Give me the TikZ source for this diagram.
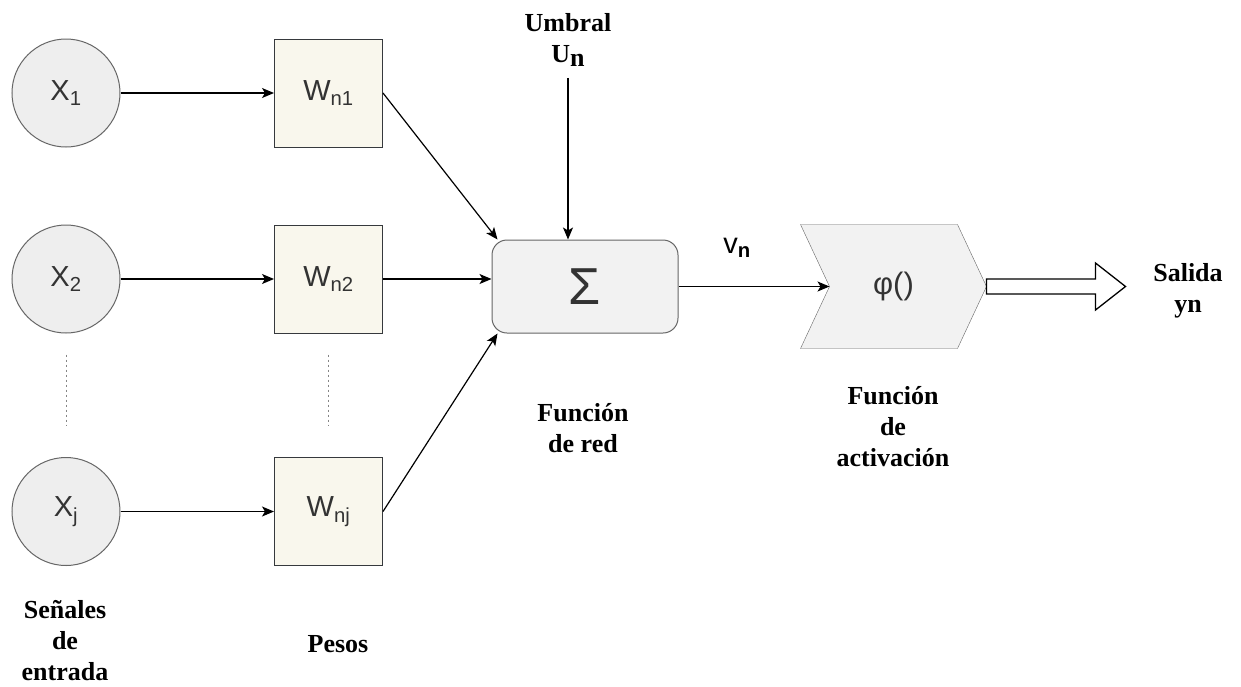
\documentclass[tikz,border=0pt]{standalone}
\usepackage{fontspec}
\setmainfont{Liberation Serif}
\newfontfamily\arial{Liberation Sans}
\usetikzlibrary{calc,arrows.meta,backgrounds}
\definecolor{grisclaro}{HTML}{EEEEEE}
\definecolor{grisnodo}{HTML}{F2F2F2}
\definecolor{borde}{HTML}{666666}
\definecolor{crema}{HTML}{F9F7ED}
\definecolor{bordepeso}{HTML}{36393D}
\definecolor{texto}{HTML}{333333}

\begin{document}
\begin{tikzpicture}[x=1pt,y=-1pt,line width=1pt,>={Stealth[length=12pt,width=10pt,inset=3pt]},
  entrada/.style={circle,draw=borde,fill=grisclaro,minimum size=108pt,inner sep=0pt,text=texto,font=\arial\fontsize{29}{34}\selectfont},
  peso/.style={draw=bordepeso,fill=crema,minimum size=108pt,inner sep=0pt,text=texto,font=\arial\fontsize{29}{34}\selectfont},
  etiqueta/.style={align=center,inner sep=1pt,font=\bfseries\fontsize{26}{31}\selectfont},
  flecha/.style={->,line width=1.2pt},
  puntos/.style={draw=borde!80,dash pattern=on 2pt off 3pt}]
  \useasboundingbox (0,0) rectangle (1241,686);
  % entradas y pesos
  \foreach \n/\y in {1/93,2/279,j/511.5}{
    \node[entrada] (x\n) at (66,\y) {X\textsubscript{\n}};
    \node[peso] (w\n) at (328.5,\y) {W\textsubscript{n\n}};
    \draw[flecha] (x\n) -- (w\n);
  }
  \foreach \c in {x,w}
    \draw[puntos] ($(\c2.south)+(0,21)$) -- ($(\c j.north)+(0,-31)$);
  % funcion de red
  \node[draw=borde,fill=grisnodo,rounded corners=15pt,minimum width=186pt,minimum height=93pt,text=texto,font=\arial\fontsize{52}{56}\selectfont] (sum) at (585,286.5) {Σ};
  \draw[flecha] (w1.east) -- ($(sum.north west)+(6,0)$);
  \draw[flecha] (w2.east) -- (w2.east -| sum.west);
  \draw[flecha] (wj.east) -- ($(sum.south west)+(6,0)$);
  \node[etiqueta] (umbral) at (568,40) {Umbral\\U\raisebox{-0.3ex}{n}};
  \draw[flecha] ([yshift=-10pt]umbral.south) -- (umbral.south |- sum.north);
  % funcion de activacion
  \node[minimum width=185pt,minimum height=123pt,inner sep=0pt,text=texto,font=\arial\fontsize{31}{36}\selectfont] (act) at (893.5,286.5) {φ()};
  \begin{scope}[on background layer]
    \draw[borde,fill=grisnodo] (act.north west) -- ($(act.north east)+(-29,0)$) -- (act.east)
      -- ($(act.south east)+(-29,0)$) -- (act.south west) -- ($(act.west)+(29,0)$) -- cycle;
  \end{scope}
  \draw[flecha] (sum.east) -- ($(act.west)+(29,0)$);
  \node[text=black,font=\arial\fontsize{29}{34}\selectfont] (vn) at (737,248) {v\textsubscript{\textbf{n}}};
  % salida
  \draw[fill=white,line width=1.3pt] ($(act.east)+(0,-7.5)$) -- ++(109,0) -- ++(0,-16) -- ++(30,23.5)
    -- ++(-30,23.5) -- ++(0,-16) -- ++(-109,0) -- cycle;
  \node[etiqueta] (salida) at (1188,291) {Salida\\yn};
  % rotulos
  \node[etiqueta] (red) at (583,428) {Función\\de red};
  \node[etiqueta] (activacion) at (893,427) {Función\\de\\activación};
  \node[etiqueta] (senales) at (65,641) {Señales\\de\\entrada};
  \node[etiqueta] (pesos) at (338,644) {Pesos};
\end{tikzpicture}
\end{document}
